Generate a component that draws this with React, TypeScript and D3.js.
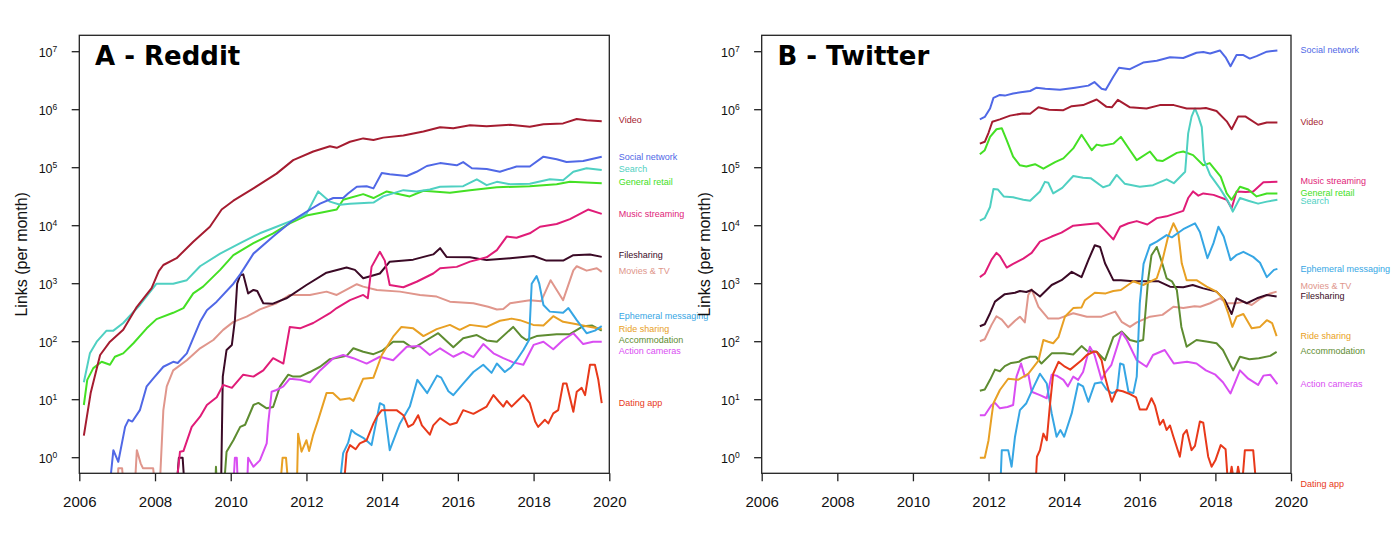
import React, { useEffect, useRef } from 'react';
import * as d3 from 'd3';

type Point = [number, number];

// series order, colours and names shared by both panels
const seriesNames = [
  'Video', 'Social network', 'Search', 'General retail', 'Music streaming', 'Filesharing',
  'Movies & TV', 'Ephemeral messaging', 'Ride sharing', 'Accommodation', 'Action cameras', 'Dating app',
];
const seriesColors = [
  '#a51c30', '#5068e6', '#4fd0c2', '#44e024', '#e01c78', '#3b0a26',
  '#e0968c', '#36a6e4', '#e8a024', '#5e8c31', '#d94df2', '#e8391a',
];

const yearTicks = [2006, 2008, 2010, 2012, 2014, 2016, 2018, 2020];
const powerTicks = [0, 1, 2, 3, 4, 5, 6, 7];

// ---------- Reddit (panel A) ----------
const redditVideo: Point[] = [
  [2006.12, 2.4], [2006.3, 13], [2006.55, 59], [2006.81, 100], [2007.16, 160], [2007.52, 400], [2007.91, 840],
  [2008.1, 1650], [2008.22, 2100], [2008.57, 2750], [2009.01, 5300], [2009.45, 9600], [2009.76, 1.9e4],
  [2010.07, 2.7e4], [2010.6, 4.4e4], [2011.21, 7.9e4], [2011.65, 1.35e5], [2012.18, 1.9e5], [2012.62, 2.35e5],
  [2012.8, 2.2e5], [2013.15, 2.8e5], [2013.5, 3.2e5], [2013.77, 3.0e5], [2014.03, 3.3e5], [2014.56, 3.6e5],
  [2015.09, 4.2e5], [2015.53, 5.0e5], [2015.88, 4.8e5], [2016.32, 5.4e5], [2016.76, 5.2e5], [2017.38, 5.5e5],
  [2017.9, 5.1e5], [2018.26, 5.6e5], [2018.78, 5.8e5], [2019.14, 6.9e5], [2019.4, 6.6e5], [2019.8, 6.3e5],
];
const redditSocial: Point[] = [
  [2006.77, 0.2], [2006.9, 1.35], [2007.03, 0.85], [2007.21, 3.4], [2007.3, 4.5], [2007.4, 4.2], [2007.6, 6.6],
  [2007.78, 17], [2007.95, 23], [2008.22, 37], [2008.48, 45], [2008.6, 43], [2008.84, 63], [2009.19, 220],
  [2009.37, 350], [2009.63, 490], [2010.07, 1000], [2010.25, 1450], [2010.6, 3300], [2011.12, 6500],
  [2011.65, 1.25e4], [2012.0, 1.74e4], [2012.36, 2.4e4], [2012.71, 3.0e4], [2012.97, 3.0e4], [2013.1, 3.6e4],
  [2013.33, 4.7e4], [2013.59, 4.8e4], [2013.77, 4.4e4], [2013.99, 8.1e4], [2014.2, 7.7e4], [2014.65, 7.2e4],
  [2014.91, 8.5e4], [2015.18, 1.07e5], [2015.53, 1.2e5], [2015.97, 1.1e5], [2016.14, 1.25e5], [2016.37, 9.8e4],
  [2016.76, 9.5e4], [2017.11, 8.5e4], [2017.55, 1.05e5], [2017.9, 1.05e5], [2018.26, 1.55e5], [2018.61, 1.4e5],
  [2018.87, 1.25e5], [2019.31, 1.3e5], [2019.8, 1.55e5],
];
const redditSearch: Point[] = [
  [2006.12, 20], [2006.28, 63], [2006.46, 100], [2006.72, 155], [2006.9, 155], [2007.16, 210], [2007.6, 430],
  [2008.04, 1000], [2008.48, 1000], [2008.84, 1150], [2009.19, 2000], [2009.72, 3300], [2010.25, 5000],
  [2010.77, 7400], [2011.21, 9600], [2011.65, 1.25e4], [2012.0, 1.6e4], [2012.31, 3.9e4], [2012.62, 2.6e4],
  [2012.89, 2.3e4], [2013.15, 2.4e4], [2013.77, 2.5e4], [2014.03, 3.2e4], [2014.56, 4.1e4], [2014.91, 3.9e4],
  [2015.26, 4.2e4], [2015.53, 4.7e4], [2016.14, 4.8e4], [2016.5, 6.3e4], [2016.76, 5.0e4], [2017.03, 5.7e4],
  [2017.38, 5.2e4], [2017.9, 5.3e4], [2018.43, 6.3e4], [2018.78, 6.1e4], [2019.05, 8.5e4], [2019.4, 9.8e4],
  [2019.8, 9.1e4],
];
const redditRetail: Point[] = [
  [2006.12, 8.1], [2006.21, 22], [2006.37, 35], [2006.59, 45], [2006.81, 40], [2006.94, 55], [2007.16, 63],
  [2007.43, 94], [2007.78, 170], [2008.04, 245], [2008.48, 315], [2008.75, 380], [2009.01, 680], [2009.27, 890],
  [2009.72, 1730], [2010.07, 3100], [2010.6, 5000], [2011.12, 7400], [2011.56, 1.1e4], [2012.0, 1.5e4],
  [2012.44, 1.7e4], [2012.8, 1.9e4], [2012.97, 2.8e4], [2013.5, 3.5e4], [2013.77, 3.0e4], [2014.12, 3.9e4],
  [2014.73, 3.2e4], [2015.09, 4.0e4], [2015.79, 3.7e4], [2016.32, 4.1e4], [2017.03, 4.6e4], [2017.9, 4.8e4],
  [2018.61, 5.2e4], [2018.96, 5.7e4], [2019.8, 5.4e4],
];
const redditMusic: Point[] = [
  [2008.53, 0.2], [2008.66, 1.27], [2008.75, 1.3], [2008.97, 3.4], [2009.19, 5.1], [2009.37, 8.1], [2009.63, 11],
  [2009.8, 18], [2010.03, 16], [2010.33, 27], [2010.6, 25], [2010.86, 32], [2011.12, 52], [2011.39, 42],
  [2011.56, 180], [2011.83, 170], [2012.18, 210], [2012.62, 310], [2012.8, 380], [2013.15, 520], [2013.5, 640],
  [2013.62, 560], [2013.72, 1950], [2013.94, 3550], [2014.07, 2500], [2014.2, 950], [2014.56, 870],
  [2014.91, 1080], [2015.35, 1500], [2015.53, 1850], [2015.97, 1950], [2016.32, 2400], [2016.76, 2850],
  [2017.03, 3800], [2017.29, 6500], [2017.55, 6200], [2017.9, 7400], [2018.17, 9600], [2018.61, 1.07e4],
  [2018.96, 1.3e4], [2019.44, 1.9e4], [2019.8, 1.6e4],
];
const redditFilesharing: Point[] = [
  [2008.55, 0.2], [2008.63, 1.0], [2008.73, 1.0], [2008.8, 0.2], [2009.74, 0.2], [2009.79, 25], [2009.89, 72],
  [2010.03, 88], [2010.11, 235], [2010.17, 1000], [2010.25, 1400], [2010.33, 1450], [2010.46, 680],
  [2010.6, 780], [2010.7, 750], [2010.86, 460], [2011.1, 450], [2011.47, 560], [2012.0, 950], [2012.53, 1550],
  [2013.06, 1900], [2013.28, 1730], [2013.5, 1240], [2013.94, 1500], [2014.2, 2400], [2014.82, 2600],
  [2015.35, 3200], [2015.53, 4100], [2015.7, 2900], [2016.32, 2850], [2016.76, 2550], [2017.38, 2750],
  [2018.0, 3000], [2018.34, 2500], [2018.78, 2500], [2019.05, 3100], [2019.49, 3200], [2019.8, 2900],
];
const redditMovies: Point[] = [
  [2007.0, 0.2], [2007.03, 0.66], [2007.13, 0.66], [2007.2, 0.2], [2007.45, 0.2], [2007.52, 1.35], [2007.62, 0.8],
  [2007.68, 0.66], [2007.95, 0.66], [2008.04, 0.2], [2008.11, 0.2], [2008.22, 6.6], [2008.31, 17], [2008.48, 32],
  [2008.84, 48], [2009.19, 77], [2009.54, 107], [2009.8, 160], [2010.07, 220], [2010.42, 270], [2010.77, 360],
  [2011.21, 460], [2011.56, 640], [2012.09, 640], [2012.53, 730], [2012.8, 640], [2013.33, 980], [2013.5, 890],
  [2013.86, 780], [2014.47, 730], [2015.0, 640], [2015.44, 600], [2015.79, 490], [2016.41, 460], [2016.8, 400],
  [2017.03, 360], [2017.2, 365], [2017.38, 460], [2017.9, 520], [2018.2, 500], [2018.45, 1150], [2018.78, 520],
  [2019.05, 1700], [2019.14, 2000], [2019.4, 1680], [2019.67, 1850], [2019.8, 1600],
];
const redditEphemeral: Point[] = [
  [2012.84, 0.2], [2012.97, 1.2], [2013.1, 1.8], [2013.19, 3.0], [2013.3, 2.6], [2013.5, 2.2], [2013.72, 1.65],
  [2013.94, 8.7], [2014.05, 8], [2014.2, 1.35], [2014.47, 3.9], [2014.73, 7.6], [2014.93, 22], [2015.19, 13],
  [2015.45, 26], [2015.56, 24], [2015.75, 14], [2015.88, 12], [2016.14, 19], [2016.41, 30], [2016.67, 40],
  [2016.89, 29], [2017.03, 42], [2017.24, 30], [2017.4, 36], [2017.55, 48], [2017.73, 72], [2017.88, 107],
  [2017.95, 1000], [2018.08, 1350], [2018.15, 1000], [2018.26, 430], [2018.43, 330], [2018.78, 315],
  [2018.92, 380], [2019.14, 235], [2019.4, 140], [2019.62, 155], [2019.8, 185],
];
const redditRide: Point[] = [
  [2011.28, 0.2], [2011.37, 1.0], [2011.46, 1.0], [2011.55, 0.2], [2011.74, 0.2], [2011.78, 2.6], [2011.87, 1.27],
  [2012.0, 2.0], [2012.07, 1.3], [2012.18, 2.5], [2012.31, 4.5], [2012.53, 13], [2012.7, 13], [2012.89, 10],
  [2013.15, 10.6], [2013.24, 9.5], [2013.5, 23], [2013.77, 24], [2013.99, 59], [2014.29, 122], [2014.51, 180],
  [2014.82, 170], [2015.09, 125], [2015.44, 165], [2015.79, 195], [2016.05, 160], [2016.32, 195], [2016.76, 180],
  [2017.11, 230], [2017.42, 250], [2017.64, 235], [2017.99, 195], [2018.26, 190], [2018.52, 275], [2018.78, 220],
  [2019.14, 200], [2019.4, 185], [2019.8, 165],
];
const redditAccommodation: Point[] = [
  [2009.58, 0.2], [2009.61, 0.7], [2009.65, 0.2], [2009.8, 0.2], [2009.89, 1.27], [2010.07, 2.0], [2010.25, 3.4],
  [2010.38, 3.7], [2010.6, 8.1], [2010.73, 8.8], [2010.95, 7.1], [2011.12, 7.5], [2011.3, 17], [2011.52, 27],
  [2011.65, 25], [2011.83, 25], [2012.09, 30], [2012.36, 37], [2012.62, 50], [2013.06, 57], [2013.24, 77],
  [2013.5, 67], [2013.77, 61], [2014.0, 70], [2014.29, 100], [2014.56, 100], [2014.82, 77], [2015.18, 107],
  [2015.48, 140], [2015.88, 80], [2016.14, 115], [2016.5, 130], [2016.76, 105], [2017.03, 100], [2017.46, 180],
  [2017.68, 122], [2017.81, 107], [2018.08, 125], [2018.61, 135], [2018.96, 135], [2019.31, 185], [2019.55, 190],
  [2019.8, 155],
];
const redditAction: Point[] = [
  [2010.05, 0.2], [2010.11, 1.0], [2010.16, 1.0], [2010.2, 0.2], [2010.42, 0.2], [2010.46, 1.0], [2010.6, 0.7],
  [2010.77, 0.9], [2010.95, 1.77], [2010.99, 3.9], [2011.08, 13.7], [2011.21, 14.7], [2011.39, 17], [2011.56, 23],
  [2011.83, 22], [2012.09, 20], [2012.36, 32], [2012.71, 52], [2012.97, 59], [2013.24, 52], [2013.59, 42],
  [2013.94, 55], [2014.29, 48], [2014.65, 82], [2014.98, 84], [2015.26, 59], [2015.53, 77], [2015.88, 55],
  [2016.14, 67], [2016.41, 54], [2016.67, 91], [2016.94, 63], [2017.2, 52], [2017.46, 44], [2017.73, 40],
  [2018.0, 88], [2018.26, 100], [2018.52, 74], [2018.78, 107], [2019.05, 140], [2019.31, 91], [2019.57, 100],
  [2019.8, 100],
];
const redditDating: Point[] = [
  [2012.96, 0.2], [2013.06, 1.2], [2013.15, 1.65], [2013.3, 1.4], [2013.41, 1.77], [2013.59, 2.0], [2013.77, 3.9],
  [2013.86, 5.1], [2013.99, 6.6], [2014.38, 6.6], [2014.56, 5.4], [2014.69, 3.4], [2014.82, 3.8], [2014.95, 5.4],
  [2015.05, 3.6], [2015.26, 2.5], [2015.35, 3.6], [2015.53, 4.8], [2015.79, 3.7], [2015.97, 4.0], [2016.14, 6.6],
  [2016.41, 5.7], [2016.76, 7.6], [2016.94, 12], [2017.07, 9.5], [2017.2, 7.6], [2017.29, 9.5], [2017.42, 7.6],
  [2017.55, 9.2], [2017.73, 12], [2017.9, 8.7], [2018.04, 4.2], [2018.12, 3.4], [2018.3, 4.5], [2018.39, 3.9],
  [2018.52, 5.8], [2018.65, 6.6], [2018.78, 19], [2018.87, 19], [2019.05, 6.2], [2019.14, 13.7], [2019.27, 16],
  [2019.36, 12], [2019.49, 40], [2019.62, 40], [2019.71, 22], [2019.8, 8.7],
];

// ---------- Twitter (panel B) ----------
const twitterSocial: Point[] = [
  [2011.77, 6.8e5], [2011.9, 7.5e5], [2012.04, 1.05e6], [2012.13, 1.6e6], [2012.3, 1.8e6], [2012.43, 1.75e6],
  [2012.65, 1.9e6], [2012.85, 2.0e6], [2013.1, 2.1e6], [2013.27, 2.4e6], [2013.5, 2.3e6], [2013.89, 2.2e6],
  [2014.29, 2.4e6], [2014.64, 2.6e6], [2014.8, 3.0e6], [2014.99, 2.3e6], [2015.1, 2.2e6], [2015.3, 3.7e6],
  [2015.45, 5.3e6], [2015.74, 5.0e6], [2016.09, 6.5e6], [2016.45, 7.0e6], [2016.8, 8.0e6], [2017.15, 7.8e6],
  [2017.5, 9.6e6], [2017.68, 9.9e6], [2017.86, 9.3e6], [2018.12, 1.05e7], [2018.27, 8.0e6], [2018.4, 5.6e6],
  [2018.56, 8.8e6], [2018.73, 8.8e6], [2018.91, 7.6e6], [2019.09, 8.4e6], [2019.36, 1.0e7], [2019.64, 1.05e7],
];
const twitterVideo: Point[] = [
  [2011.77, 2.6e5], [2011.9, 2.8e5], [2012.0, 4.0e5], [2012.1, 6.2e5], [2012.3, 6.8e5], [2012.57, 7.9e5],
  [2012.9, 8.6e5], [2013.1, 8.5e5], [2013.32, 1.1e6], [2013.6, 1.0e6], [2013.98, 9.8e5], [2014.2, 1.15e6],
  [2014.5, 1.2e6], [2014.86, 1.5e6], [2015.12, 1.12e6], [2015.26, 1.1e6], [2015.42, 1.48e6], [2015.74, 1.1e6],
  [2016.18, 1.05e6], [2016.53, 1.2e6], [2016.9, 1.2e6], [2017.24, 1.05e6], [2017.6, 1.05e6], [2017.75, 1.07e6],
  [2018.03, 9.5e5], [2018.3, 6.3e5], [2018.43, 4.6e5], [2018.6, 7.6e5], [2018.8, 7.6e5], [2019.13, 5.5e5],
  [2019.36, 6.0e5], [2019.64, 6.0e5],
];
const twitterSearch: Point[] = [
  [2011.77, 1.22e4], [2011.9, 1.35e4], [2012.04, 2.1e4], [2012.13, 4.3e4], [2012.25, 4.2e4], [2012.4, 3.2e4],
  [2012.65, 3.1e4], [2012.92, 2.8e4], [2013.1, 2.7e4], [2013.36, 3.9e4], [2013.49, 5.7e4], [2013.58, 5.5e4],
  [2013.71, 3.6e4], [2013.95, 4.5e4], [2014.24, 7.2e4], [2014.5, 6.7e4], [2014.7, 6.6e4], [2015.03, 4.6e4],
  [2015.2, 5.0e4], [2015.39, 7.5e4], [2015.6, 5.3e4], [2016.0, 4.7e4], [2016.35, 5.0e4], [2016.71, 6.3e4],
  [2016.9, 5.4e4], [2017.2, 8.5e4], [2017.28, 3.9e5], [2017.37, 7.6e5], [2017.46, 1.05e6], [2017.55, 7.6e5],
  [2017.64, 5.0e5], [2017.7, 1.35e5], [2017.86, 7.5e4], [2018.12, 4.4e4], [2018.34, 2.6e4], [2018.46, 1.75e4],
  [2018.65, 3.0e4], [2018.87, 2.7e4], [2019.13, 2.4e4], [2019.36, 2.6e4], [2019.64, 2.8e4],
];
const twitterRetail: Point[] = [
  [2011.77, 1.7e5], [2011.9, 2.0e5], [2012.04, 3.4e5], [2012.21, 4.6e5], [2012.35, 4.8e5], [2012.48, 3.0e5],
  [2012.65, 1.55e5], [2012.83, 1.1e5], [2013.0, 1.05e5], [2013.23, 1.15e5], [2013.45, 9.6e4], [2013.76, 1.25e5],
  [2013.98, 1.45e5], [2014.24, 2.15e5], [2014.46, 3.7e5], [2014.73, 2.0e5], [2014.86, 2.5e5], [2015.0, 2.4e5],
  [2015.3, 2.6e5], [2015.5, 3.4e5], [2015.74, 2.0e5], [2015.92, 1.35e5], [2016.27, 1.9e5], [2016.45, 1.35e5],
  [2016.6, 1.3e5], [2016.98, 1.8e5], [2017.15, 1.9e5], [2017.41, 1.65e5], [2017.68, 1.1e5], [2017.85, 1.2e5],
  [2018.14, 7.0e4], [2018.3, 3.6e4], [2018.43, 2.8e4], [2018.65, 4.7e4], [2018.87, 4.2e4], [2019.09, 3.2e4],
  [2019.36, 3.6e4], [2019.64, 3.6e4],
];
const twitterMusic: Point[] = [
  [2011.77, 1.3e3], [2011.9, 1.5e3], [2012.08, 2.6e3], [2012.21, 3.4e3], [2012.3, 3.0e3], [2012.48, 1.9e3],
  [2012.65, 2.2e3], [2012.92, 2.7e3], [2013.14, 3.4e3], [2013.36, 5.3e3], [2013.67, 6.5e3], [2013.93, 7.6e3],
  [2014.24, 1.0e4], [2014.55, 1.05e4], [2014.9, 1.1e4], [2015.08, 8.3e3], [2015.3, 5.8e3], [2015.48, 9.6e3],
  [2015.7, 1.1e4], [2015.92, 1.2e4], [2016.2, 1.05e4], [2016.45, 1.35e4], [2016.71, 1.45e4], [2017.15, 1.8e4],
  [2017.28, 3.0e4], [2017.41, 3.9e4], [2017.55, 3.3e4], [2017.68, 3.6e4], [2017.95, 3.4e4], [2018.3, 2.8e4],
  [2018.43, 2.0e4], [2018.56, 3.9e4], [2018.8, 3.8e4], [2019.0, 3.9e4], [2019.27, 5.6e4], [2019.64, 5.7e4],
];
const twitterFilesharing: Point[] = [
  [2011.77, 185], [2011.9, 200], [2012.04, 310], [2012.17, 490], [2012.43, 660], [2012.7, 700], [2012.83, 750],
  [2013.0, 720], [2013.14, 780], [2013.36, 600], [2013.67, 950], [2013.93, 1150], [2014.2, 1600], [2014.46, 1300],
  [2014.64, 2550], [2014.81, 4600], [2014.95, 4300], [2015.08, 2250], [2015.3, 1150], [2015.5, 1150],
  [2015.83, 1100], [2016.27, 1100], [2016.5, 1100], [2016.8, 890], [2017.15, 870], [2017.4, 950], [2017.68, 830],
  [2018.03, 730], [2018.25, 520], [2018.43, 300], [2018.56, 560], [2018.83, 460], [2019.1, 560], [2019.36, 640],
  [2019.62, 600],
];
const twitterMovies: Point[] = [
  [2011.77, 102], [2011.9, 110], [2012.08, 195], [2012.21, 275], [2012.35, 240], [2012.52, 177], [2012.7, 230],
  [2012.83, 270], [2012.96, 215], [2013.05, 640], [2013.14, 800], [2013.32, 400], [2013.58, 250], [2013.85, 250],
  [2014.24, 310], [2014.6, 270], [2014.99, 270], [2015.35, 330], [2015.52, 220], [2015.74, 180], [2015.92, 215],
  [2016.27, 270], [2016.6, 290], [2016.89, 400], [2017.15, 380], [2017.45, 410], [2017.6, 400], [2017.86, 460],
  [2018.12, 560], [2018.3, 460], [2018.55, 460], [2018.74, 490], [2018.96, 430], [2019.2, 560], [2019.45, 680],
  [2019.62, 730],
];
const twitterEphemeral: Point[] = [
  [2012.3, 0.2], [2012.35, 1.35], [2012.52, 1.35], [2012.61, 0.7], [2012.7, 2.3], [2012.83, 6.6], [2013.0, 8.7],
  [2013.2, 17], [2013.36, 28], [2013.54, 19], [2013.67, 5.8], [2013.8, 2.3], [2013.9, 3.0], [2014.0, 2.3],
  [2014.2, 5.8], [2014.37, 19], [2014.5, 17], [2014.64, 9.2], [2014.81, 19], [2014.99, 20], [2015.12, 15],
  [2015.26, 13], [2015.4, 14], [2015.48, 42], [2015.57, 40], [2015.7, 13.7], [2015.83, 13], [2015.92, 25],
  [2016.0, 460], [2016.1, 2200], [2016.27, 4600], [2016.45, 5300], [2016.71, 6900], [2016.85, 6300],
  [2017.0, 7400], [2017.15, 8700], [2017.46, 1.1e4], [2017.59, 7800], [2017.79, 2750], [2017.95, 5000],
  [2018.08, 9600], [2018.22, 6500], [2018.4, 2550], [2018.55, 3100], [2018.74, 3550], [2019.0, 2900],
  [2019.18, 2300], [2019.36, 1300], [2019.55, 1730], [2019.64, 1800],
];
const twitterRide: Point[] = [
  [2011.77, 1.0], [2011.9, 1.0], [2012.0, 2.0], [2012.08, 5.1], [2012.13, 8.7], [2012.3, 14.7], [2012.52, 23],
  [2012.78, 22], [2013.05, 28], [2013.32, 47], [2013.45, 107], [2013.58, 100], [2013.71, 94], [2013.85, 120],
  [2014.02, 270], [2014.24, 380], [2014.46, 390], [2014.55, 520], [2014.81, 700], [2015.1, 680], [2015.3, 750],
  [2015.5, 780], [2015.83, 1100], [2016.09, 950], [2016.45, 1240], [2016.58, 2250], [2016.75, 6500],
  [2016.89, 1.1e4], [2017.02, 7400], [2017.11, 2250], [2017.24, 1150], [2017.5, 1150], [2017.77, 890],
  [2018.03, 730], [2018.2, 560], [2018.34, 310], [2018.45, 180], [2018.56, 270], [2018.74, 300], [2018.96, 170],
  [2019.18, 180], [2019.36, 235], [2019.5, 210], [2019.62, 125],
];
const twitterAccommodation: Point[] = [
  [2011.77, 14.3], [2011.9, 15], [2012.04, 22], [2012.17, 33], [2012.3, 31], [2012.43, 38], [2012.6, 43],
  [2012.8, 45], [2012.9, 50], [2013.1, 55], [2013.25, 55], [2013.4, 42], [2013.67, 63], [2014.0, 63],
  [2014.24, 60], [2014.46, 84], [2014.6, 70], [2014.86, 67], [2015.08, 48], [2015.3, 120], [2015.52, 150],
  [2015.74, 107], [2015.92, 100], [2016.09, 107], [2016.22, 1150], [2016.31, 3100], [2016.45, 4300],
  [2016.58, 2400], [2016.71, 1240], [2016.85, 1100], [2016.98, 780], [2017.1, 180], [2017.24, 82],
  [2017.5, 107], [2017.8, 100], [2018.03, 94], [2018.2, 72], [2018.47, 32], [2018.65, 55], [2018.9, 50],
  [2019.15, 52], [2019.45, 57], [2019.62, 67],
];
const twitterAction: Point[] = [
  [2011.77, 5.4], [2011.9, 5.4], [2012.08, 8.1], [2012.17, 8.8], [2012.3, 7.1], [2012.5, 7.5], [2012.65, 8.1],
  [2012.74, 25], [2012.86, 42], [2012.96, 25], [2013.05, 28], [2013.14, 13.7], [2013.36, 12], [2013.54, 10.6],
  [2013.67, 27], [2013.8, 26], [2013.98, 22], [2014.1, 17], [2014.24, 25], [2014.37, 22], [2014.5, 30],
  [2014.68, 82], [2014.8, 60], [2014.99, 22], [2015.1, 30], [2015.25, 40], [2015.52, 145], [2015.65, 110],
  [2015.92, 48], [2016.18, 37], [2016.35, 59], [2016.66, 72], [2016.9, 42], [2017.25, 45], [2017.5, 42],
  [2017.75, 32], [2018.0, 27], [2018.2, 20], [2018.4, 12.8], [2018.65, 32], [2018.87, 23], [2019.13, 18],
  [2019.27, 26], [2019.45, 27], [2019.64, 18.6],
];
const twitterDating: Point[] = [
  [2013.23, 0.2], [2013.28, 1.04], [2013.36, 1.35], [2013.45, 2.6], [2013.54, 2.0], [2013.62, 7.6], [2013.71, 28],
  [2013.85, 45], [2014.02, 37], [2014.16, 33], [2014.46, 48], [2014.6, 59], [2014.77, 67], [2014.86, 67],
  [2014.99, 48], [2015.08, 25], [2015.17, 15], [2015.26, 9.2], [2015.39, 14.7], [2015.55, 14], [2015.74, 12.5],
  [2015.9, 11], [2016.0, 6.8], [2016.18, 6.8], [2016.31, 10.6], [2016.4, 8], [2016.53, 3.7], [2016.62, 4.5],
  [2016.71, 3.0], [2016.8, 3.6], [2016.89, 2.3], [2017.06, 1.04], [2017.15, 2.5], [2017.24, 3.0], [2017.37, 1.35],
  [2017.46, 1.6], [2017.59, 4.2], [2017.68, 4.0], [2017.81, 1.04], [2017.9, 0.7], [2018.0, 0.9], [2018.14, 1.65],
  [2018.27, 1.4], [2018.34, 0.3], [2018.43, 0.7], [2018.52, 0.3], [2018.6, 0.7], [2018.7, 0.3], [2018.78, 1.35],
  [2019.0, 1.35], [2019.11, 0.2],
];

// series lists, same order as seriesNames
const redditData = [
  redditVideo, redditSocial, redditSearch, redditRetail, redditMusic, redditFilesharing,
  redditMovies, redditEphemeral, redditRide, redditAccommodation, redditAction, redditDating,
];
const twitterData = [
  twitterVideo, twitterSocial, twitterSearch, twitterRetail, twitterMusic, twitterFilesharing,
  twitterMovies, twitterEphemeral, twitterRide, twitterAccommodation, twitterAction, twitterDating,
];

// level (in links per month) at which each name label sits in the right margin
const redditLabelLevels = [6.6e5, 1.55e5, 9.4e4, 5.6e4, 1.6e4, 3.1e3, 1.66e3, 276, 166, 107, 69, 9.0];
const twitterLabelLevels = [6.2e5, 1.07e7, 2.7e4, 3.7e4, 5.9e4, 620, 910, 1.77e3, 127, 70, 19, 0.35];

// drawing order (first drawn is at the back)
const drawOrder = [6, 5, 4, 3, 2, 1, 0, 9, 10, 8, 7, 11];

const axisFont = '"Liberation Sans", Arial, Helvetica, sans-serif';

const App: React.FC = () => {
  const svgRef = useRef<SVGSVGElement>(null);

  useEffect(() => {
    if (!svgRef.current) return;
    const svg = d3.select(svgRef.current);
    svg.selectAll('*').remove();

    const top = 35.3;
    const bottom = 473.3;

    const drawPanel = (
      id: string,
      left: number,
      right: number,
      title: string,
      data: Point[][],
      labelLevels: number[],
    ) => {
      const x = d3.scaleLinear().domain([2006, 2020]).range([left, right]);
      // 58px per decade, 10^0 sits 15.6px above the x axis
      const y = d3.scaleLog().domain([1, 1e7]).range([bottom - 15.6, bottom - 15.6 - 7 * 58]);

      const g = svg.append('g');

      g.append('clipPath')
        .attr('id', `clip-${id}`)
        .append('rect')
        .attr('x', left)
        .attr('y', top)
        .attr('width', right - left)
        .attr('height', bottom - top);

      // lines
      const line = d3.line<Point>()
        .x(d => x(d[0]))
        .y(d => y(d[1]));

      const lines = g.append('g').attr('clip-path', `url(#clip-${id})`);
      drawOrder.forEach(i => {
        lines.append('path')
          .datum(data[i])
          .attr('fill', 'none')
          .attr('stroke', seriesColors[i])
          .attr('stroke-width', 2)
          .attr('stroke-linejoin', 'round')
          .attr('d', line);
      });

      // box
      g.append('rect')
        .attr('x', left)
        .attr('y', top)
        .attr('width', right - left)
        .attr('height', bottom - top)
        .attr('fill', 'none')
        .attr('stroke', '#222')
        .attr('stroke-width', 1.3);

      // x axis
      const xAxis = d3.axisBottom(x)
        .tickValues(yearTicks)
        .tickSize(8)
        .tickPadding(15)
        .tickFormat(d => String(d));
      const xg = g.append('g')
        .attr('transform', `translate(0,${bottom})`)
        .call(xAxis);
      xg.select('.domain').remove();
      xg.selectAll('.tick line').attr('stroke', '#222').attr('stroke-width', 1.3);
      xg.selectAll('.tick text')
        .attr('fill', '#111')
        .attr('font-family', axisFont)
        .attr('font-size', 15);

      // y axis with 10^n labels
      const yg = g.append('g');
      powerTicks.forEach(p => {
        const yy = y(Math.pow(10, p));
        yg.append('line')
          .attr('x1', left - 7.6)
          .attr('x2', left)
          .attr('y1', yy)
          .attr('y2', yy)
          .attr('stroke', '#222')
          .attr('stroke-width', 1.3);
        const t = yg.append('text')
          .attr('x', left - 22)
          .attr('y', yy + 4.8)
          .attr('text-anchor', 'end')
          .attr('fill', '#111')
          .attr('font-family', axisFont)
          .attr('font-size', 12.5);
        t.append('tspan').text('10');
        t.append('tspan')
          .attr('font-size', 8.5)
          .attr('dy', -5)
          .text(String(p));
      });

      // y axis title
      g.append('text')
        .attr('transform', `translate(${left - 52},${(top + bottom) / 2}) rotate(-90)`)
        .attr('text-anchor', 'middle')
        .attr('fill', '#111')
        .attr('font-family', axisFont)
        .attr('font-size', 16)
        .text('Links (per month)');

      // panel title
      g.append('text')
        .attr('x', left + 15.7)
        .attr('y', 65)
        .attr('fill', '#000')
        .attr('font-family', '"DejaVu Sans", Verdana, sans-serif')
        .attr('font-weight', 'bold')
        .attr('font-size', 26)
        .text(title);

      // series names in the right margin
      seriesNames.forEach((name, i) => {
        g.append('text')
          .attr('x', right + 9.5)
          .attr('y', y(labelLevels[i]))
          .attr('dy', '0.35em')
          .attr('fill', seriesColors[i])
          .attr('font-family', axisFont)
          .attr('font-size', 9)
          .text(name);
      });
    };

    drawPanel('a', 79.3, 609.3, 'A - Reddit', redditData, redditLabelLevels);
    drawPanel('b', 761.7, 1291, 'B - Twitter', twitterData, twitterLabelLevels);
  }, []);

  return (
    <svg
      ref={svgRef}
      width={1400}
      height={542}
      style={{ position: 'absolute', left: 0, top: 0, background: '#fff' }}
    />
  );
};

export default App;
